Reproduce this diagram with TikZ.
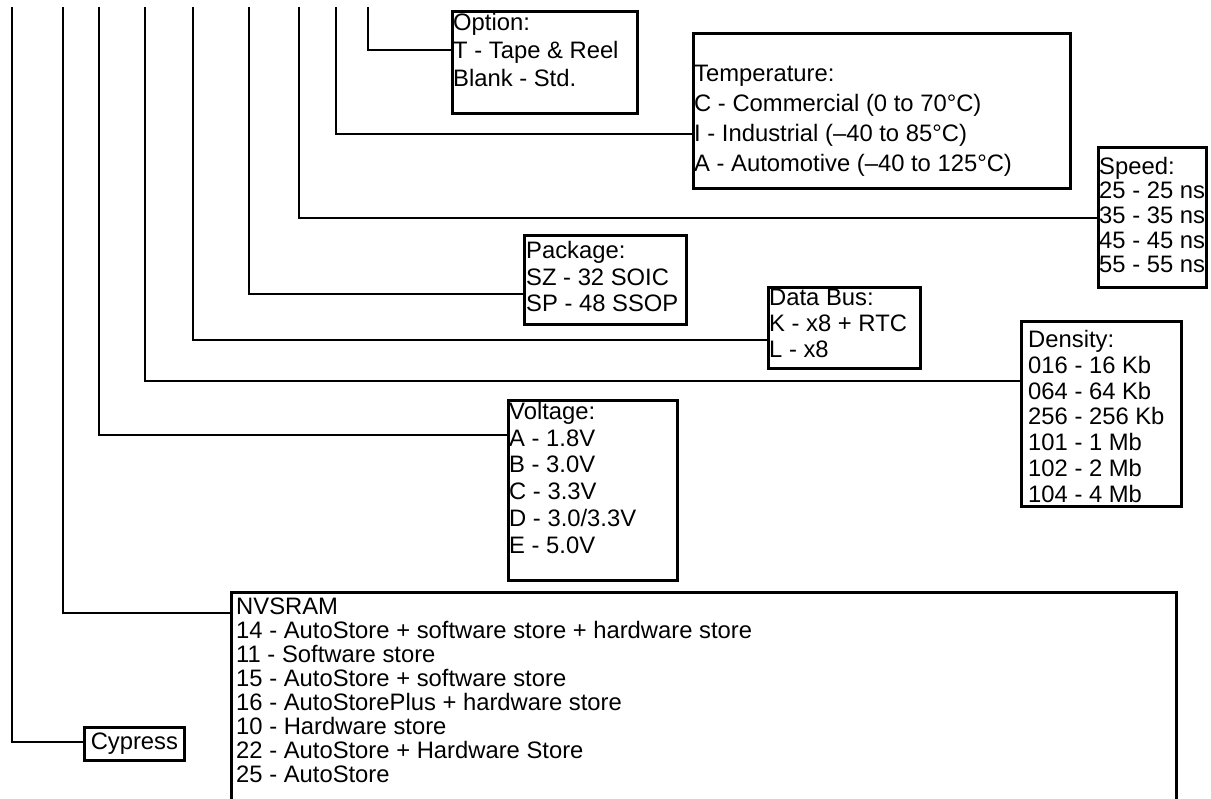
\documentclass[tikz,border=0pt]{standalone}
\usepackage{fontspec}
\setmainfont{Liberation Sans}
\usetikzlibrary{positioning,calc}

\tikzset{
  field/.style={draw, line width=2.8pt, inner sep=0pt, anchor=north west},
  rows/.style={anchor=base west, inner sep=0pt, align=left,
               font=\fontsize{23.8}{#1}\selectfont},
  lead/.style={line width=2.7pt},
}

\begin{document}
\begin{tikzpicture}[x=1pt, y=-1pt]
\clip (0,0) rectangle (1211,799);
% boxes
\node[field, minimum width=185, minimum height=102] (opt)  at (451,10)  {};
\node[field, minimum width=377, minimum height=155] (temp) at (692,32)  {};
\node[field, minimum width=108, minimum height=140] (spd)  at (1097,146) {};
\node[field, minimum width=162, minimum height=89]  (pkg)  at (523,234) {};
\node[field, minimum width=152, minimum height=81]  (bus)  at (767,286) {};
\node[field, minimum width=160, minimum height=185] (den)  at (1020,320) {};
\node[field, minimum width=169, minimum height=180] (vol)  at (507,399) {};
\node[field, minimum width=945, minimum height=260] (nvs)  at (230,591) {};
\node[field, minimum width=100, minimum height=33, font=\fontsize{23.8}{27}\selectfont] (cyp) at (83,726) {Cypress};
% texts (placed by the baseline of their last row)
\node[rows=28] (opt-t) at (453,87) {Option:\\T - Tape \& Reel\\Blank - Std.};
\node[rows=30] (temp-t) at (694,172) {Temperature:\\C - Commercial (0 to 70°C)\\I - Industrial (–40 to 85°C)\\A - Automotive (–40 to 125°C)};
\node[rows=24.7] (spd-t) at (1099,273) {Speed:\\25 - 25 ns\\35 - 35 ns\\45 - 45 ns\\55 - 55 ns};
\node[rows=26.5] (pkg-t) at (526,312) {Package:\\SZ - 32 SOIC\\SP - 48 SSOP};
\node[rows=26] (bus-t) at (769,358) {Data Bus:\\K - x8 + RTC\\L - x8};
\node[rows=26] (den-t) at (1028,503) {Density:\\016 - 16 Kb\\064 - 64 Kb\\256 - 256 Kb\\101 - 1 Mb\\102 - 2 Mb\\104 - 4 Mb};
\node[rows=26.7] (vol-t) at (509,553) {Voltage:\\A - 1.8V\\B - 3.0V\\C - 3.3V\\D - 3.0/3.3V\\E - 5.0V};
\node[rows=24] (nvs-t) at (236,782) {NVSRAM\\14 - AutoStore + software store + hardware store\\11 - Software store\\15 - AutoStore + software store\\16 - AutoStorePlus + hardware store\\10 - Hardware store\\22 - AutoStore + Hardware Store\\25 - AutoStore};
% leads
\foreach \x/\n/\d in {12/cyp/16, 63/nvs/22, 99/vol/36, 145/den/61, 193/bus/54,
                      249/pkg/60, 299/spd/72, 336/temp/102, 368/opt/40} {
  \coordinate (top-\n) at (\x,7);
  \draw[lead] (top-\n) |- ($(\n.north west)+(0,\d)$);
}
\end{tikzpicture}
\end{document}
